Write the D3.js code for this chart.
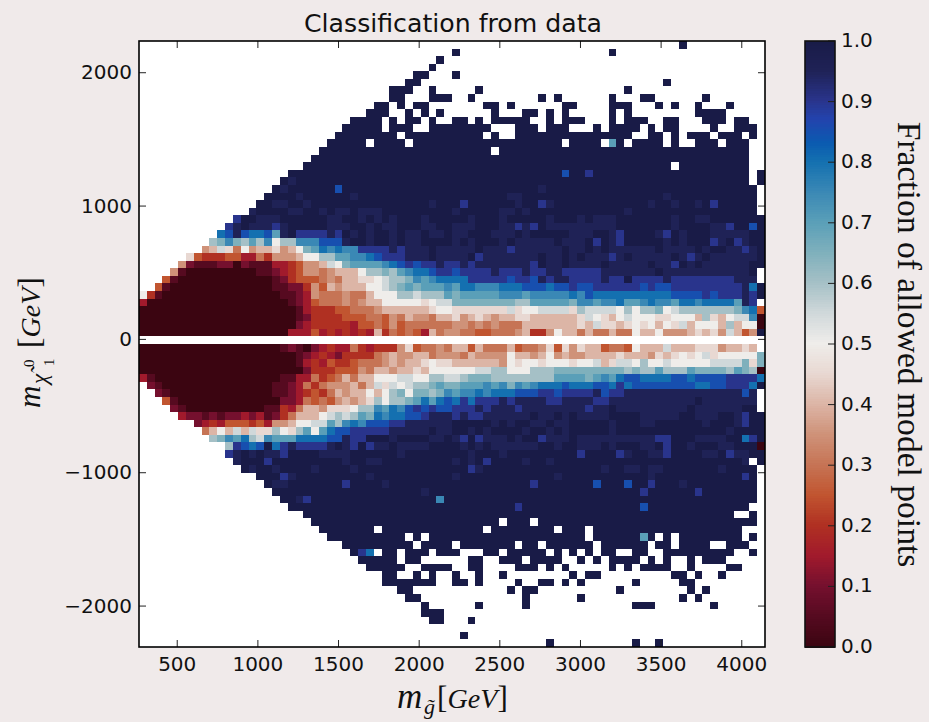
<!DOCTYPE html>
<html>
<head>
<meta charset="utf-8">
<title>Classification from data</title>
<script src="https://d3js.org/d3.v7.min.js"></script>
<style>
  html, body { margin: 0; padding: 0; background: #f0eaea; }
  svg { display: block; }
  .tick-label { font-family: "DejaVu Sans", sans-serif; font-size: 20px; fill: #111; }
  .math { font-family: "Liberation Serif", serif; font-style: italic; fill: #111; }
  .roman { font-style: normal; }
</style>
</head>
<body>
<div id="chart"></div>
<script>
// tick labels
let xTicks = [500, 1000, 1500, 2000, 2500, 3000, 3500, 4000];
let yTicks = [-2000, -1000, 0, 1000, 2000];
let barTicks = [0, 0.1, 0.2, 0.3, 0.4, 0.5, 0.6, 0.7, 0.8, 0.9, 1];

// colormap stops
let cmapValues = [0, 0.05, 0.1, 0.15, 0.2, 0.25, 0.3, 0.35, 0.4, 0.45, 0.5, 0.55, 0.6, 0.65, 0.7, 0.75, 0.8, 0.83, 0.87, 0.9, 0.95, 1];
let cmapColors = ["#3b0511", "#560a20", "#75102e", "#a11a2c", "#b03022", "#c15530", "#c67455", "#cf9279", "#dcb5a6", "#e8d8d2", "#efedea",
  "#d0d8da", "#a5c0c6", "#7fb0bc", "#5a9fb8", "#3a88b5", "#1470b0", "#0a5bb0", "#2343ad", "#29348c", "#1f2256", "#191b47"];

// Each letter is one bin: a=0.00, b=0.05 ... u=1.00, dot = no models in the bin.
// Rows run from the top of the plot down, 80 bins across, spaced every 10 for counting.
let levels = "abcdefghijklmnopqrstu";
let gridRows = [
".......... .......... .......... .......... .......... .......... .........u ..........",
".......... .......... .......... .......... u......... .......... u......... ..........",
".......... .......... .......... ........u. .......... .......... .......... ..........",
".......... .......... .......... .......u.. .......... .......... .......... ..........",
".......... .......... .......... .....uu... u......... .......... .......... ..........",
".......... .......... .......... ....uu.... .......... .......... .......u.. ..........",
".......... .......... .......... ..uuu..u.. ...u...... .......... ..u....... ..........",
".......... .......... .......... ..uu...uuu ..u....... .u.u...... u...uu.... ..u.......",
".......... .......... .......... uu.u.uu... ....uu.u.. ....uu.... uuu...u.u. .u...u....",
".......... .......... .........u uu..u.u.u. .....u...u u.u.u..... u.u....... .uuuu.....",
".......... .......... .......uuu u.u.uu.u.. uu.u.uuuuu ..u.uuu... u.uuu..uu. ..uuu.uu..",
".......... .......... ......uuuu u.uuu..uuu uuuuu...uu u.uuu...u. uuuu.u.uu. ...u..uuu.",
".......... .......... .....uuuuu uuu.uuuuuu uuuu.u..uu uuuuuuuuuu uuu..uu.u. uuu.uuu.u.",
".......... .......... ....uuuuu. uuuu.uuuuu uuuuuuuuuu uuuu.uuuu. ou.uuuu.u. .uuu.uuu..",
".......... .......... ...uuuuuuu uuuuuuuuuu uuuuu.uuuu uuuuuuuuuu uuuuuuuuuu uuuuuuuu..",
".......... .......... ..uuuuuuuu uuuuuuuuuu uuuuuuuuuu uuuuuuuuuu uuuuuuuuuu uuuuuuuu..",
".......... .......... .uuuuuuuuu uuuuuuuuuu uuuuuuuuuu uuuuuuuuuu uuuuuuuu.u uuuuuuuu..",
".......... .........u uuuuuuuuuu uuuuuuuuuu uuuuuuuuuu uuuuruusuu uuuuuuuuuu uuuuuuuu.u",
".......... ........ut uuuuuuuuuu uuuuuuuuuu uuuuuuuuuu uuuuuuuuuu uuuuuuuuuu uuuuuuuu.u",
".......... .......utu uuuuuruuuu uuuuuuuuuu uuuuuuuuuu utuuuuuuuu uuuuuuuuuu uuuuuuuuu.",
".......... ......uuuu tuuuuuutuu uuuuuuuuuu uuuuuuuttu uuuuuuuuuu uuuuuuutuu uuuuuuuuu.",
".......... .....uuttu utuuuuuuuu uuuuuuutuu usuuuuuutu ustuuuuuuu uuuuutuutu utusuuuuu.",
".......... ....tuuuut tuututtutt tuuuuuuuuu tuuuuuttut uuuuuuuuuu uutuuuuuuu uuuuuuuuu.",
".......... ..suutttuu uuuuttuutu tutuuutuuu uutuuutuuu uutuuututt tuuuuuuutu uttuuuuuuu",
".......... .stutttstu uuuutttuut uttuuuttuu tttuuuttst sutttttttt tuuuuuuutu uuuttsuuru",
".......... qrtrqqrotu sssstsutut uututtuttu ttuuutttut uuuuutttuu tsuuuutsut uuutttttuu",
".........m npnmompkmm ppprrrtuut uututtuuuu tutuuututt tttutttusu tsuuuuutut uuustustuu",
"........hi ljgkhiijhi knoqpqppss sststttutt tttutttstt ttttuttutu ttttttuttt tutuuttstu",
"......jfee effddgehhh ikkmmooppq rssstttutt ttustttttt tuttututtt stutttttut stuttttttu",
".....hcbbb ccacbbbdde fhhilknooo opqrsrssts ststtttttt suttuttttu tttttuttsu tuttttttuu",
"....hbaaaa aaaaabbcde fhhghiiikm mnmopqqrss rsssstssst ssttssssst ttttttuttt ttttttttu.",
"...fbaaaaa aaaaaaabce fffghgiijj klmmnpopqq qqsssssrss rtsttsssst ssusssstss ssssssttt.",
"..fbaaaaaa aaaaaaabbc cehfihiiik klmnonooop oqqpppqqqr rrqrrsrrss ssssrsrrss ssssssstqu",
"kebaaaaaaa aaaaaaaabb cdhggghggi kkkmmlmmmo nooooopppo pppppqprqq qqqqqqqqrr rrsrssstsu",
"daaaaaaaaa aaaaaaaaab cdfggghghi ikkkkkjkll nnnnnnnnmm ooooonppop pqoopqppoq qpqqqqots.",
"aaaaaaaaaa aaaaaaaaaa bdeeeffggg hiiiiiijkk jjjjjjjljk klllljmlll lkmkmmnklm mmmmmmnpqf",
"aaaaaaaaaa aaaaaaaaaa bceeeefffg gfhgihhgii jhijihiijj iiiiiijlkj iklkkkjjkk kimjikllpa",
"aaaaaaaaaa aaaaaaaaaa cdeeeeedff gfhfgggggg hhghghgggi iiiiiijilj jijkjkikjl ikkkimikka",
"aaaaaaaaaa aaaaaaaaad ddfdededed iegfgfdigh hggffggghi eehkiigigg iggkiikhhh ijijhlifhu",
".......... .......... .......... .......... .......... .......... .......... ..........",
"aaaaaaaaaa aaaaaaaabc bacdeddged eeehjfgghg iifigggifg ghjfjhjiif ggfkiiilii ijjjhiiji.",
"aaaaaaaaaa aaaaaaaaaa bcdedceeee ghihhiighh hgihhhhkii hikhihhiii ijiiihjijk jkljkkkkkn",
"aaaaaaaaaa aaaaaaaaaa bdedfeefgg ghihiijkjj iiiiiihkjk kjkkkjkkli jllkmkklkk kkkllllnjn",
"aaaaaaaaaa aaaaaaaaaa aceeefffhg iihiijikkk kkkllmmkkk mmmnnnnnnn nnmnmmommm onnnnmonma",
"dbaaaaaaaa aaaaaaaabb ddgefgigii kkkllkkmml lmnnnmmmmm mmmoooonop oqrrqqqqrr qrrrrssssq",
".cbaaaaaaa aaaaaaabbc dgeghhhigi ljlklmmnon nooopopnpo pqqqrqqqrr qsqrrrrrrr rqqrrsssqu",
"..cbaaaaaa aaaaaaabbc defegihiik ikmnknnmnp oppqpqqqrr rssrsssstr sstttttttt tttttttrt.",
"...fbaaaaa aaaaaaaacc dgfgfhihij mkmmnoqoqr qsqssststt ttssttttss tttttttttt tuttttttt.",
"....cbaaaa aaaaaabbed giihjjjkmm poqprsrsrr ssststttst tttttttstt uttttttttt uttttttuu.",
".....dccbc bccdcdbceg iiiklmlmon qpqqrrsttt stsstttttt uttututttt uuuutttttu utttuutsuu",
".......cde dfffefdhhi kkllompqpr rrsstttttt uuuuututuu ttuttuuuuu tuuuttuuuu uutuuutsuu",
"........gi kililjjmkj mokoqrrsss sstttttutt uututuuuut uututuuuuu tuuuuuuuuu uuuuutuuuu",
".........m npoqmlpooo qqqqrrtssu uutuuuuttu tsustttutu ustttutttt ttttttssuu uttttuuqsu",
".......... .msrqruqst sssstutsus ttuttttuuu utututtttt tuutuutttu tuuuttusuu tuuuttuuua",
".......... .stututtsu uuuttttuuu uuutuuuuuu uutuuutuuu uuuuuusuuu ustuuttsuu uuttusttuu",
".......... ..tuuusuuu uuuuuutuut tuuuuuuuuu tutusuuuut uutuuuuuuu uuuuuuuuuu uuuuuuut.u",
".......... ...utuutuu uutuuuutuu uuuuuuuuuu uustuuuuuu uuuuuuuuut uuttuttuuu uuuutuuuu.",
".......... .....uuust uuuuuuuuut uuuuuuuuuu tuuuuuuuuu uuutuuuuuu uuuuutuuuu uuuuuuusu.",
".......... ......uttu uuuuuusuuu utuuuuuuuu uuuuuuuuuu suuuuuuuru uuruusuuut uuuuuuuuu.",
".......... .......uuu uuuuuuuuuu uuuuuutuuu uuuuuuuuuu uuuuuuuuuu uuuusuuuuu usuuuuuuu.",
".......... ........uu tsuuuuuuuu uuuuuuuupu uuuuuuuuuu uuuuuuuuuu uuuuuuuuuu uuuuuuuuu.",
".......... .........u uuuuuuuuuu uuuuuuuuuu uuuuuuuusu uuuuuuuuuu uuuuruuuuu uuuuuuuu..",
".......... .......... .uuuuuuuuu uuuuuuuuuu uuuuuuuuuu uuuuuuuuuu uuuuuuuuuu uuuuuu..u.",
".......... .......... ..uuuuuuuu uuuuuuuuuu uuuuuu.uuu .uuuuuuuuu uuuuuuuuuu uuuuuuuuu.",
".......... .......... ...uuuuuuu .uuuuuuuuu uuuu.uuuuu uuu.uuu.uu uuuuuuuuuu uuuuuuu...",
".......... .......... ....uuuuuu uuuu.u.uuu uuuuuuuuuu uuuuuuu.uu uuuuou.u.u uuuuuuu.u.",
".......... .......... ......uuuu uuuuu.uuuu .uuuuuuu.u u.uuuuuu.u uuuuu.uu.u uuu..uuu..",
".......... .......... .......usq .uu.uuu.uu u...uu.uuu uu.u.u.u.u u..uu..uuu uuuuuu..u.",
".......... .......... ........uu uuu.uu.... ..uu..uuu. uuuu..u.u. uuuu.u.u.. u.uuu.....",
".......... .......... .........u uuuu..uuuu ..uu....uu u.u.u..... u.u.uuuu.. u....uu...",
".......... .......... .......... .uu..u.u.. u..u..u... .....u.uu. ........uu .u..u.....",
".......... .......... .......... .uuuuuuu.. uu.u....u. .uu.u.u... ...u.....u u.........",
".......... .......... .......... ...uu..... .......u.u u......... .u........ u.u.......",
".......... .......... .......... ....uu.... .........u ......u... .........u .u........",
".......... .......... .......... ......u... ...u.....u .......... ...uuu.... ...u......",
".......... .......... .......... ......uuu. .......... .......... .......... ..........",
".......... .......... .......... .......uu. ..u....... .......... .......... ..........",
".......... .......... .......... .......... .......... .......... .......... ..........",
".......... .......... .......... .......... .u........ .......... .......... ..........",
".......... .......... .......... .......... .......... ..u....... ...u..u... .........."
];

// Define SVG area dimensions
let svgWidth = 929;
let svgHeight = 722;

let plot = { left: 139, right: 765, top: 41, bottom: 647 };
let bar = { left: 805, right: 835, top: 41, bottom: 647 };

let svg = d3.select("#chart")
  .append("svg")
  .attr("width", svgWidth)
  .attr("height", svgHeight);

// Scales
let xScale = d3.scaleLinear().domain([263, 4144]).range([plot.left, plot.right]);
let yScale = d3.scaleLinear().domain([-2307, 2238]).range([plot.bottom, plot.top]);
let colorScale = d3.scaleLinear().domain(cmapValues).range(cmapColors).interpolate(d3.interpolateRgb);
let barScale = d3.scaleLinear().domain([0, 1]).range([bar.bottom, bar.top]);

// The 80 x 80 bins
let nCols = 80;
let nRows = gridRows.length;
let binW = (xScale.domain()[1] - xScale.domain()[0]) / nCols;
let binH = (yScale.domain()[1] - yScale.domain()[0]) / nRows;

let cells = [];
gridRows.forEach(function(row, r) {
  let clean = row.replace(/ /g, "");
  for (let c = 0; c < clean.length; c++) {
    let idx = levels.indexOf(clean[c]);
    if (idx >= 0) {
      cells.push({ col: c, row: r, value: idx / 20 });
    }
  }
});

svg.append("rect")
  .attr("x", plot.left).attr("y", plot.top)
  .attr("width", plot.right - plot.left).attr("height", plot.bottom - plot.top)
  .attr("fill", "#fff");

svg.append("g")
  .selectAll("rect")
  .data(cells)
  .enter()
  .append("rect")
  .attr("x", d => xScale(xScale.domain()[0] + d.col * binW))
  .attr("y", d => yScale(yScale.domain()[1] - d.row * binH))
  .attr("width", (plot.right - plot.left) / nCols)
  .attr("height", (plot.bottom - plot.top) / nRows)
  .attr("shape-rendering", "crispEdges")
  .attr("fill", d => colorScale(d.value));

// ticks on all four sides, pointing in
let tickLen = 7;
let ticks = svg.append("g").attr("stroke", "#222").attr("stroke-width", 1);
xTicks.forEach(function(t) {
  ticks.append("line").attr("x1", xScale(t)).attr("x2", xScale(t)).attr("y1", plot.bottom).attr("y2", plot.bottom - tickLen);
  ticks.append("line").attr("x1", xScale(t)).attr("x2", xScale(t)).attr("y1", plot.top).attr("y2", plot.top + tickLen);
});
yTicks.forEach(function(t) {
  ticks.append("line").attr("x1", plot.left).attr("x2", plot.left + tickLen).attr("y1", yScale(t)).attr("y2", yScale(t));
  ticks.append("line").attr("x1", plot.right).attr("x2", plot.right - tickLen).attr("y1", yScale(t)).attr("y2", yScale(t));
});

svg.append("rect")
  .attr("x", plot.left).attr("y", plot.top)
  .attr("width", plot.right - plot.left).attr("height", plot.bottom - plot.top)
  .attr("fill", "none").attr("stroke", "#000").attr("stroke-width", 1.6);

// tick labels
svg.append("g").selectAll("text").data(xTicks).enter().append("text")
  .attr("class", "tick-label")
  .attr("x", d => xScale(d))
  .attr("y", plot.bottom + 24)
  .attr("text-anchor", "middle")
  .text(d => d);

svg.append("g").selectAll("text").data(yTicks).enter().append("text")
  .attr("class", "tick-label")
  .attr("x", plot.left - 7)
  .attr("y", d => yScale(d) + 6.5)
  .attr("text-anchor", "end")
  .text(d => String(d).replace("-", "\u2212"));

// title
svg.append("text")
  .attr("x", 453)
  .attr("y", 32)
  .attr("text-anchor", "middle")
  .attr("font-family", "DejaVu Sans, sans-serif")
  .attr("font-size", 25.2)
  .attr("fill", "#111")
  .text("Classification from data");

// [GeV] with upright brackets, pieces placed one after the other
function addGeV(group, x) {
  group.append("text").attr("class", "math roman").attr("x", x).attr("font-size", 31).text("[");
  group.append("text").attr("class", "math").attr("x", x + 10.5).attr("font-size", 28).text("GeV");
  group.append("text").attr("class", "math roman").attr("x", x + 60.5).attr("font-size", 31).text("]");
}

// x label
let xLabel = svg.append("g").attr("transform", "translate(397,708)");
xLabel.append("text").attr("class", "math").attr("font-size", 35).text("m");
xLabel.append("text").attr("class", "math").attr("x", 27).attr("y", 6).attr("font-size", 22).text("g\u0303");
addGeV(xLabel, 40);

// y label
let yLabel = svg.append("g").attr("transform", "translate(40,408) rotate(-90)");
yLabel.append("text").attr("class", "math").attr("font-size", 31).text("m");
yLabel.append("text").attr("class", "math").attr("x", 24).attr("y", 7).attr("font-size", 23).text("\u03c7\u0303");
yLabel.append("text").attr("class", "math roman").attr("x", 42).attr("y", 14).attr("font-size", 15).text("1");
yLabel.append("text").attr("class", "math roman").attr("x", 41).attr("y", -6).attr("font-size", 15).text("0");
addGeV(yLabel, 60);

// colour bar
let barSteps = d3.range(0, 1, 1 / 256);
svg.append("g")
  .selectAll("rect")
  .data(barSteps)
  .enter()
  .append("rect")
  .attr("x", bar.left)
  .attr("width", bar.right - bar.left)
  .attr("y", d => barScale(d + 1 / 256))
  .attr("height", (bar.bottom - bar.top) / 256 + 0.5)
  .attr("shape-rendering", "crispEdges")
  .attr("fill", d => colorScale(d));

svg.append("g").selectAll("line").data(barTicks).enter().append("line")
  .attr("x1", bar.right - tickLen)
  .attr("x2", bar.right)
  .attr("y1", d => barScale(d))
  .attr("y2", d => barScale(d))
  .attr("stroke", "#222")
  .attr("stroke-width", 1);

svg.append("rect")
  .attr("x", bar.left).attr("y", bar.top)
  .attr("width", bar.right - bar.left).attr("height", bar.bottom - bar.top)
  .attr("fill", "none").attr("stroke", "#111").attr("stroke-width", 1.6);

svg.append("g").selectAll("text").data(barTicks).enter().append("text")
  .attr("class", "tick-label")
  .attr("x", bar.right + 6)
  .attr("y", d => barScale(d) + 6)
  .text(d => d.toFixed(1));

svg.append("text")
  .attr("transform", "translate(898,344.5) rotate(90)")
  .attr("text-anchor", "middle")
  .attr("font-family", "Liberation Serif, serif")
  .attr("font-size", 33.6)
  .attr("fill", "#111")
  .text("Fraction of allowed model points");
</script>
</body>
</html>
